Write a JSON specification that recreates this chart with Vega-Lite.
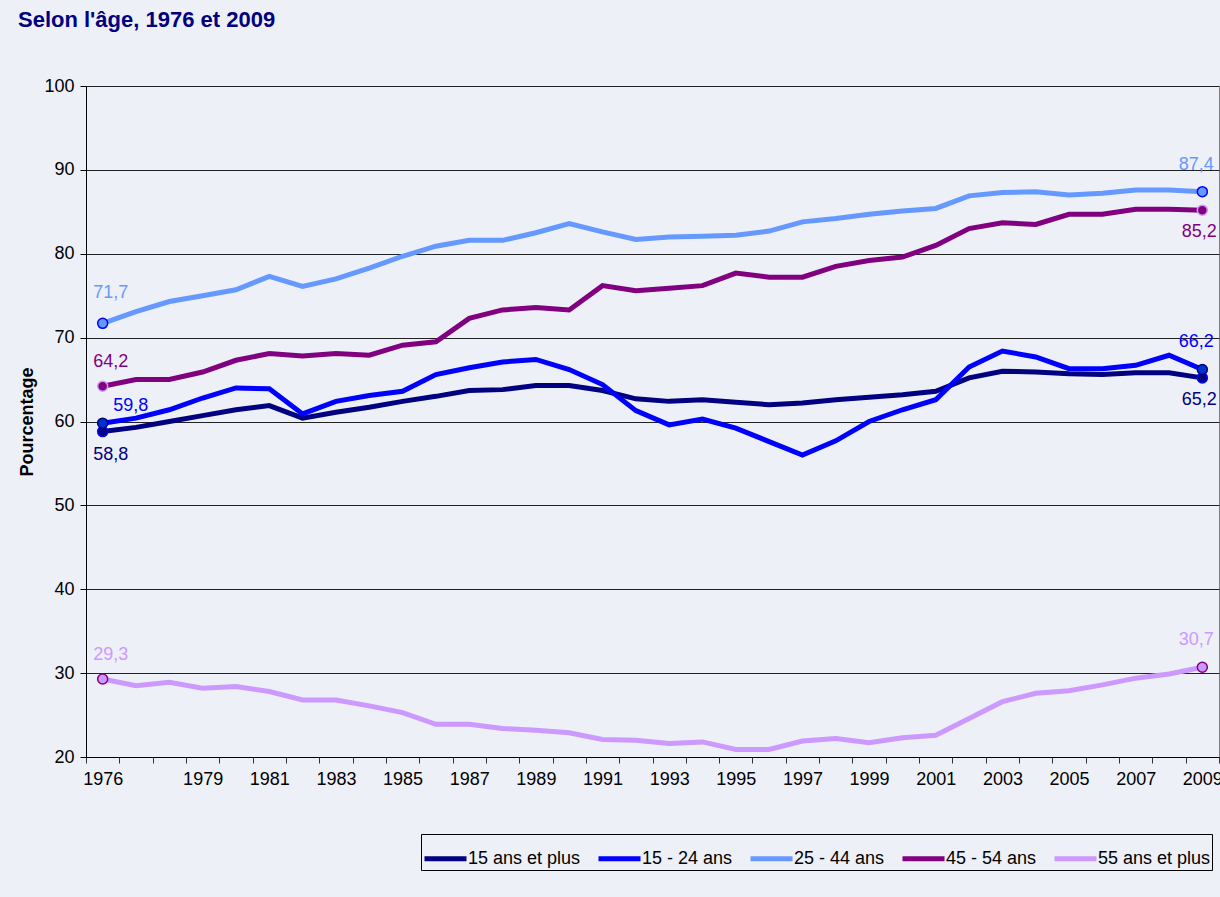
{
  "$schema": "https://vega.github.io/schema/vega-lite/v6.json",
  "width": 1133,
  "height": 671,
  "autosize": {"type": "none"},
  "padding": {"left": 86, "top": 86, "right": 1, "bottom": 140},
  "background": "#EEF0F8",
  "title": {
    "text": "Selon l'âge, 1976 et 2009",
    "anchor": "start",
    "frame": "group",
    "dx": -68,
    "offset": 45,
    "font": "Liberation Sans",
    "fontSize": 22,
    "fontWeight": "bold",
    "color": "#000080"
  },
  "config": {
    "font": "Liberation Sans",
    "locale": {"number": {"decimal": ",", "thousands": " ", "grouping": [3], "currency": ["", " €"]}},
    "view": {"stroke": "#808080", "strokeWidth": 1}
  },
  "data": {
    "values": [
      {"annee": 1976, "15 ans et plus": 58.8, "15 - 24 ans": 59.8, "25 - 44 ans": 71.7, "45 - 54 ans": 64.2, "55 ans et plus": 29.3},
      {"annee": 1977, "15 ans et plus": 59.3, "15 - 24 ans": 60.4, "25 - 44 ans": 73.1, "45 - 54 ans": 65.0, "55 ans et plus": 28.5},
      {"annee": 1978, "15 ans et plus": 60.0, "15 - 24 ans": 61.4, "25 - 44 ans": 74.3, "45 - 54 ans": 65.0, "55 ans et plus": 28.9},
      {"annee": 1979, "15 ans et plus": 60.7, "15 - 24 ans": 62.8, "25 - 44 ans": 75.0, "45 - 54 ans": 65.9, "55 ans et plus": 28.2},
      {"annee": 1980, "15 ans et plus": 61.4, "15 - 24 ans": 64.0, "25 - 44 ans": 75.7, "45 - 54 ans": 67.3, "55 ans et plus": 28.4},
      {"annee": 1981, "15 ans et plus": 61.9, "15 - 24 ans": 63.9, "25 - 44 ans": 77.3, "45 - 54 ans": 68.1, "55 ans et plus": 27.8},
      {"annee": 1982, "15 ans et plus": 60.4, "15 - 24 ans": 60.9, "25 - 44 ans": 76.1, "45 - 54 ans": 67.8, "55 ans et plus": 26.8},
      {"annee": 1983, "15 ans et plus": 61.1, "15 - 24 ans": 62.4, "25 - 44 ans": 77.0, "45 - 54 ans": 68.1, "55 ans et plus": 26.8},
      {"annee": 1984, "15 ans et plus": 61.7, "15 - 24 ans": 63.1, "25 - 44 ans": 78.3, "45 - 54 ans": 67.9, "55 ans et plus": 26.1},
      {"annee": 1985, "15 ans et plus": 62.4, "15 - 24 ans": 63.6, "25 - 44 ans": 79.7, "45 - 54 ans": 69.1, "55 ans et plus": 25.3},
      {"annee": 1986, "15 ans et plus": 63.0, "15 - 24 ans": 65.6, "25 - 44 ans": 80.9, "45 - 54 ans": 69.5, "55 ans et plus": 23.9},
      {"annee": 1987, "15 ans et plus": 63.7, "15 - 24 ans": 66.4, "25 - 44 ans": 81.6, "45 - 54 ans": 72.3, "55 ans et plus": 23.9},
      {"annee": 1988, "15 ans et plus": 63.8, "15 - 24 ans": 67.1, "25 - 44 ans": 81.6, "45 - 54 ans": 73.3, "55 ans et plus": 23.4},
      {"annee": 1989, "15 ans et plus": 64.3, "15 - 24 ans": 67.4, "25 - 44 ans": 82.5, "45 - 54 ans": 73.6, "55 ans et plus": 23.2},
      {"annee": 1990, "15 ans et plus": 64.3, "15 - 24 ans": 66.2, "25 - 44 ans": 83.6, "45 - 54 ans": 73.3, "55 ans et plus": 22.9},
      {"annee": 1991, "15 ans et plus": 63.7, "15 - 24 ans": 64.4, "25 - 44 ans": 82.6, "45 - 54 ans": 76.2, "55 ans et plus": 22.1},
      {"annee": 1992, "15 ans et plus": 62.7, "15 - 24 ans": 61.3, "25 - 44 ans": 81.7, "45 - 54 ans": 75.6, "55 ans et plus": 22.0},
      {"annee": 1993, "15 ans et plus": 62.4, "15 - 24 ans": 59.6, "25 - 44 ans": 82.0, "45 - 54 ans": 75.9, "55 ans et plus": 21.6},
      {"annee": 1994, "15 ans et plus": 62.6, "15 - 24 ans": 60.3, "25 - 44 ans": 82.1, "45 - 54 ans": 76.2, "55 ans et plus": 21.8},
      {"annee": 1995, "15 ans et plus": 62.3, "15 - 24 ans": 59.2, "25 - 44 ans": 82.2, "45 - 54 ans": 77.7, "55 ans et plus": 20.9},
      {"annee": 1996, "15 ans et plus": 62.0, "15 - 24 ans": 57.6, "25 - 44 ans": 82.7, "45 - 54 ans": 77.2, "55 ans et plus": 20.9},
      {"annee": 1997, "15 ans et plus": 62.2, "15 - 24 ans": 56.0, "25 - 44 ans": 83.8, "45 - 54 ans": 77.2, "55 ans et plus": 21.9},
      {"annee": 1998, "15 ans et plus": 62.6, "15 - 24 ans": 57.7, "25 - 44 ans": 84.2, "45 - 54 ans": 78.5, "55 ans et plus": 22.2},
      {"annee": 1999, "15 ans et plus": 62.9, "15 - 24 ans": 60.0, "25 - 44 ans": 84.7, "45 - 54 ans": 79.2, "55 ans et plus": 21.7},
      {"annee": 2000, "15 ans et plus": 63.2, "15 - 24 ans": 61.4, "25 - 44 ans": 85.1, "45 - 54 ans": 79.6, "55 ans et plus": 22.3},
      {"annee": 2001, "15 ans et plus": 63.6, "15 - 24 ans": 62.6, "25 - 44 ans": 85.4, "45 - 54 ans": 81.0, "55 ans et plus": 22.6},
      {"annee": 2002, "15 ans et plus": 65.2, "15 - 24 ans": 66.5, "25 - 44 ans": 86.9, "45 - 54 ans": 83.0, "55 ans et plus": 24.6},
      {"annee": 2003, "15 ans et plus": 66.0, "15 - 24 ans": 68.4, "25 - 44 ans": 87.3, "45 - 54 ans": 83.7, "55 ans et plus": 26.6},
      {"annee": 2004, "15 ans et plus": 65.9, "15 - 24 ans": 67.7, "25 - 44 ans": 87.4, "45 - 54 ans": 83.5, "55 ans et plus": 27.6},
      {"annee": 2005, "15 ans et plus": 65.7, "15 - 24 ans": 66.3, "25 - 44 ans": 87.0, "45 - 54 ans": 84.7, "55 ans et plus": 27.9},
      {"annee": 2006, "15 ans et plus": 65.6, "15 - 24 ans": 66.3, "25 - 44 ans": 87.2, "45 - 54 ans": 84.7, "55 ans et plus": 28.6},
      {"annee": 2007, "15 ans et plus": 65.8, "15 - 24 ans": 66.7, "25 - 44 ans": 87.6, "45 - 54 ans": 85.3, "55 ans et plus": 29.4},
      {"annee": 2008, "15 ans et plus": 65.8, "15 - 24 ans": 67.9, "25 - 44 ans": 87.6, "45 - 54 ans": 85.3, "55 ans et plus": 29.9},
      {"annee": 2009, "15 ans et plus": 65.2, "15 - 24 ans": 66.2, "25 - 44 ans": 87.4, "45 - 54 ans": 85.2, "55 ans et plus": 30.7}
    ]
  },
  "transform": [
    {"fold": ["15 ans et plus", "15 - 24 ans", "25 - 44 ans", "45 - 54 ans", "55 ans et plus"], "as": ["groupe", "taux"]}
  ],
  "encoding": {
    "x": {
      "field": "annee",
      "type": "ordinal",
      "bandPosition": 0.5,
      "scale": {"type": "band", "paddingInner": 0, "paddingOuter": 0},
      "axis": {
        "title": null,
        "labelAngle": 0,
        "labelFontSize": 18,
        "labelColor": "black",
        "labelFont": "Liberation Sans",
        "labelOverlap": false,
        "labelPadding": 7,
        "tickBand": "extent",
        "tickSize": 6,
        "tickColor": "#333333",
        "domainColor": "black",
        "grid": false,
        "labelExpr": "datum.value == 1976 || (datum.value >= 1979 && datum.value % 2 == 1) ? datum.label : ''"
      }
    },
    "y": {
      "field": "taux",
      "type": "quantitative",
      "scale": {"domain": [20, 100], "nice": false, "zero": false},
      "axis": {
        "values": [20, 30, 40, 50, 60, 70, 80, 90, 100],
        "title": "Pourcentage",
        "titleFontSize": 18,
        "titleFontWeight": "bold",
        "titleColor": "black",
        "titleFont": "Liberation Sans",
        "titlePadding": 7,
        "labelFontSize": 18,
        "labelColor": "black",
        "labelFont": "Liberation Sans",
        "labelPadding": 6,
        "tickSize": 6,
        "tickColor": "black",
        "domainColor": "black",
        "grid": true,
        "gridColor": "#222222",
        "gridWidth": 1
      }
    }
  },
  "layer": [
    {
      "mark": {"type": "line", "strokeWidth": 5},
      "encoding": {
        "color": {
          "field": "groupe",
          "type": "nominal",
          "scale": {
            "domain": ["15 ans et plus", "15 - 24 ans", "25 - 44 ans", "45 - 54 ans", "55 ans et plus"],
            "range": ["#000080", "#0000FF", "#6699FF", "#800080", "#CC99FF"]
          },
          "legend": {
            "title": null,
            "orient": "none",
            "legendX": 335,
            "legendY": 748,
            "direction": "horizontal",
            "symbolType": "stroke",
            "symbolSize": 1764,
            "symbolStrokeWidth": 5,
            "labelFontSize": 18,
            "labelFont": "Liberation Sans",
            "labelColor": "black",
            "labelOffset": -1,
            "labelLimit": 0,
            "columnPadding": 7,
            "padding": 1,
            "strokeColor": "black"
          }
        }
      }
    },
    {
      "transform": [{"filter": "datum.annee == 1976 || datum.annee == 2009"}],
      "mark": {"type": "circle", "size": 100, "strokeWidth": 1.5, "opacity": 1},
      "encoding": {
        "fill": {
          "field": "groupe",
          "type": "nominal",
          "scale": {
            "domain": ["15 ans et plus", "15 - 24 ans", "25 - 44 ans", "45 - 54 ans", "55 ans et plus"],
            "range": ["#000080", "#0033CC", "#6699FF", "#800080", "#CC99FF"]
          },
          "legend": null
        },
        "stroke": {
          "field": "groupe",
          "type": "nominal",
          "scale": {
            "domain": ["15 ans et plus", "15 - 24 ans", "25 - 44 ans", "45 - 54 ans", "55 ans et plus"],
            "range": ["#0000FF", "#000080", "#0000FF", "#CC99FF", "#800080"]
          },
          "legend": null
        }
      }
    },
    {
      "transform": [{"filter": "datum.annee == 1976 && datum.groupe == '25 - 44 ans'"}],
      "mark": {"type": "text", "fontSize": 18, "dx": 8, "dy": -30, "align": "center", "baseline": "middle"},
      "encoding": {
        "text": {"field": "taux", "type": "quantitative", "format": ".1f"},
        "color": {"field": "groupe", "type": "nominal"}
      }
    },
    {
      "transform": [{"filter": "datum.annee == 1976 && (datum.groupe == '45 - 54 ans' || datum.groupe == '55 ans et plus')"}],
      "mark": {"type": "text", "fontSize": 18, "dx": 8, "dy": -24, "align": "center", "baseline": "middle"},
      "encoding": {
        "text": {"field": "taux", "type": "quantitative", "format": ".1f"},
        "color": {"field": "groupe", "type": "nominal"}
      }
    },
    {
      "transform": [{"filter": "datum.annee == 1976 && datum.groupe == '15 - 24 ans'"}],
      "mark": {"type": "text", "fontSize": 18, "dx": 28, "dy": -17, "align": "center", "baseline": "middle"},
      "encoding": {
        "text": {"field": "taux", "type": "quantitative", "format": ".1f"},
        "color": {"field": "groupe", "type": "nominal"}
      }
    },
    {
      "transform": [{"filter": "datum.annee == 1976 && datum.groupe == '15 ans et plus'"}],
      "mark": {"type": "text", "fontSize": 18, "dx": 8, "dy": 23, "align": "center", "baseline": "middle"},
      "encoding": {
        "text": {"field": "taux", "type": "quantitative", "format": ".1f"},
        "color": {"field": "groupe", "type": "nominal"}
      }
    },
    {
      "transform": [{"filter": "datum.annee == 2009 && (datum.groupe == '25 - 44 ans' || datum.groupe == '15 - 24 ans' || datum.groupe == '55 ans et plus')"}],
      "mark": {"type": "text", "fontSize": 18, "dx": -6, "dy": -27, "align": "center", "baseline": "middle"},
      "encoding": {
        "text": {"field": "taux", "type": "quantitative", "format": ".1f"},
        "color": {"field": "groupe", "type": "nominal"}
      }
    },
    {
      "transform": [{"filter": "datum.annee == 2009 && (datum.groupe == '45 - 54 ans' || datum.groupe == '15 ans et plus')"}],
      "mark": {"type": "text", "fontSize": 18, "dx": -3, "dy": 22, "align": "center", "baseline": "middle"},
      "encoding": {
        "text": {"field": "taux", "type": "quantitative", "format": ".1f"},
        "color": {"field": "groupe", "type": "nominal"}
      }
    }
  ]
}
